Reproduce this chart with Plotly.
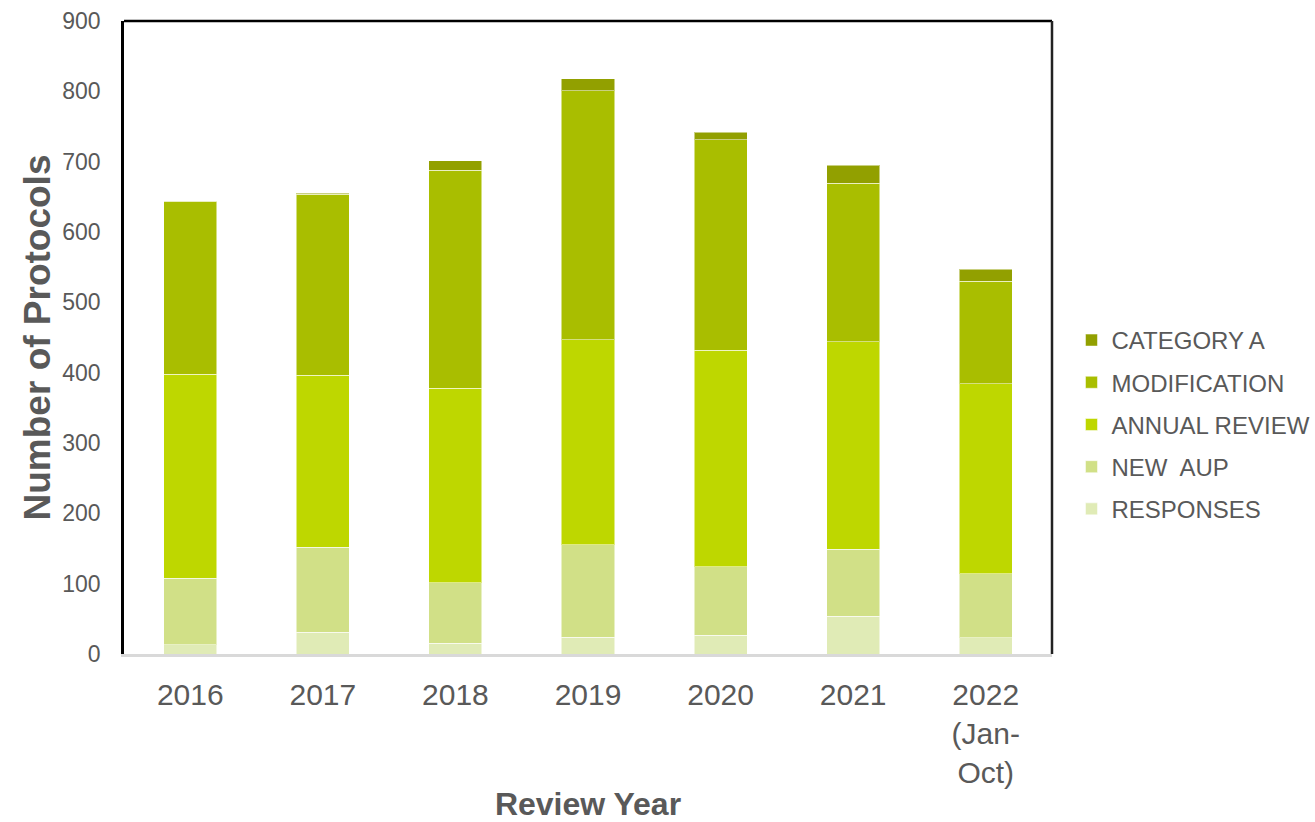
import plotly.graph_objects as go

years = ["2016", "2017", "2018", "2019", "2020", "2021", "2022<br>(Jan-<br>Oct)"]
responses = [13, 31, 15, 24, 27, 54, 23]
new_aup = [95, 121, 86, 131, 97, 95, 91]
annual_review = [290, 244, 277, 292, 308, 295, 270]
modification = [246, 258, 310, 354, 299, 225, 146]
category_a = [0, 1, 13, 17, 11, 26, 17]

series = [
    ("RESPONSES", responses, "#E0EBB6"),
    ("NEW  AUP", new_aup, "#D1E087"),
    ("ANNUAL REVIEW", annual_review, "#BED700"),
    ("MODIFICATION", modification, "#A9BE00"),
    ("CATEGORY A", category_a, "#92A000"),
]

fig = go.Figure()
for i, (name, vals, col) in enumerate(series):
    fig.add_trace(go.Bar(
        x=years, y=vals, name=name, legendgroup=name,
        legendrank=1000 - i,
        marker=dict(color=col, line=dict(color="rgba(255,255,255,0.5)", width=1)),
    ))

font_family = "Liberation Sans, Arial, sans-serif"
grey = "#595959"

fig.update_layout(
    barmode="stack",
    bargap=0.6,
    width=1315, height=822,
    margin=dict(l=124, r=263, t=21, b=168, autoexpand=False),
    plot_bgcolor="white", paper_bgcolor="white",
    font=dict(family=font_family, color=grey),
    showlegend=True,
    legend=dict(
        x=1.021, xanchor="left", y=0.3626, yanchor="middle",
        traceorder="grouped", tracegroupgap=8,
        font=dict(size=24, color=grey, family=font_family),
        itemwidth=30,
    ),
    xaxis=dict(
        showline=True, linecolor="#D9D9D9", linewidth=2.5,
        tickfont=dict(size=30, color=grey),
        ticks="", showgrid=False,
        ticklabelstandoff=12,
        title=dict(text="<b>Review Year</b>", font=dict(size=32, color=grey), standoff=10),
    ),
    yaxis=dict(
        range=[0, 900], dtick=100,
        showline=True, linecolor="black", linewidth=2.5,
        showgrid=False, ticks="", zeroline=False,
        tickfont=dict(size=23, color=grey),
        ticklabelstandoff=16,
        title=dict(text="<b>Number of Protocols</b>", font=dict(size=37, color=grey), standoff=1),
    ),
    shapes=[
        dict(type="line", xref="paper", yref="paper", x0=0, x1=1, y0=1, y1=1,
             line=dict(color="black", width=2.5)),
        dict(type="line", xref="paper", yref="paper", x0=1, x1=1, y0=0, y1=1,
             line=dict(color="#222222", width=2.5)),
    ],
)

fig.write_html("out.html", config={"displayModeBar": False},
               post_script="document.body.style.margin='0';")
